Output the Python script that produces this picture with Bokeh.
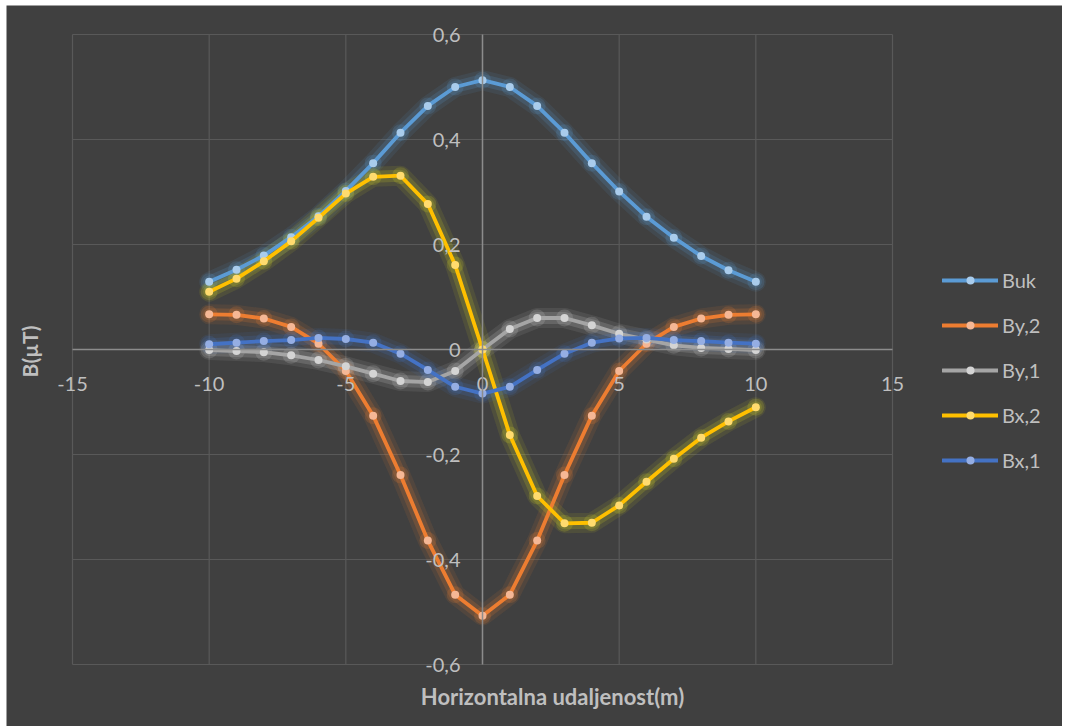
import math
from bokeh.plotting import figure
from bokeh.models import (LinearAxis, FixedTicker, CustomJSTickFormatter, Legend,
                          LegendItem, Label, Range1d)
from bokeh.embed import file_html
from bokeh.resources import INLINE

# ---------------- data ----------------
x = [-10, -9, -8, -7, -6, -5, -4, -3, -2, -1, 0, 1, 2, 3, 4, 5, 6, 7, 8, 9, 10]
buk = [0.129, 0.152, 0.179, 0.214, 0.254, 0.302, 0.355, 0.413, 0.464, 0.500, 0.513,
       0.500, 0.464, 0.413, 0.355, 0.301, 0.253, 0.213, 0.178, 0.151, 0.129]
by2 = [0.067, 0.066, 0.059, 0.043, 0.011, -0.041, -0.126, -0.239, -0.364, -0.467, -0.507,
       -0.467, -0.364, -0.239, -0.126, -0.041, 0.011, 0.043, 0.059, 0.066, 0.067]
by1 = [-0.001, -0.003, -0.005, -0.011, -0.020, -0.032, -0.046, -0.060, -0.062, -0.041, 0.0,
       0.039, 0.060, 0.060, 0.046, 0.030, 0.019, 0.008, 0.003, 0.001, -0.001]
bx2 = [0.110, 0.135, 0.168, 0.206, 0.251, 0.297, 0.329, 0.331, 0.277, 0.161, 0.0,
       -0.163, -0.279, -0.331, -0.330, -0.297, -0.252, -0.208, -0.168, -0.137, -0.110]
bx1 = [0.010, 0.013, 0.016, 0.018, 0.022, 0.020, 0.013, -0.008, -0.039, -0.071, -0.084,
       -0.071, -0.039, -0.008, 0.013, 0.021, 0.022, 0.018, 0.016, 0.013, 0.011]

series_names = ["Buk", "By,2", "By,1", "Bx,2", "Bx,1"]
series_values = [buk, by2, by1, bx2, bx1]

x_ticks = [-15, -10, -5, 0, 5, 10, 15]
x_tick_labels = ["-15", "-10", "-5", "0", "5", "10", "15"]
y_ticks = [-0.6, -0.4, -0.2, 0.0, 0.2, 0.4, 0.6]
y_tick_labels = ["-0,6", "-0,4", "-0,2", "0", "0,2", "0,4", "0,6"]

x_title = "Horizontalna udaljenost(m)"
y_title = "B(µT)"

# ---------------- styles / layout ----------------
line_colors = ["#5B9BD5", "#ED7D31", "#A5A5A5", "#FFC000", "#4472C4"]
marker_colors = ["#A9CCEC", "#F5B795", "#D4D4D4", "#FFDB6E", "#95AEE3"]
glow_colors = ["#5B9BD5", "#ED7D31", "#D0D0D0", "#D8D820", "#4472C4"]

BG = "#404040"
GRID = "#595959"
TXT = "#BFBFBF"
FONT = "Lato"

# axis box is 820 x 630 px; the frame covers the whole chart so nothing is clipped
AX_X0, AX_X1 = -15, 15
AX_Y0, AX_Y1 = -0.6, 0.6
BOX_W, BOX_H = 820, 630
PAD_L, PAD_R, PAD_T, PAD_B = 66, 170, 29, 62
FRAME_W = BOX_W + PAD_L + PAD_R
FRAME_H = BOX_H + PAD_T + PAD_B
sx = (AX_X1 - AX_X0) / BOX_W
sy = (AX_Y1 - AX_Y0) / BOX_H

p = figure(frame_width=FRAME_W, frame_height=FRAME_H,
           min_border_left=0, min_border_right=0,
           min_border_top=0, min_border_bottom=0,
           x_range=Range1d(AX_X0 - PAD_L * sx, AX_X1 + PAD_R * sx),
           y_range=Range1d(AX_Y0 - PAD_B * sy, AX_Y1 + PAD_T * sy),
           x_axis_location=None, y_axis_location=None,
           output_backend="svg", toolbar_location=None)
p.margin = (5, 0, 0, 6)

p.background_fill_color = BG
p.border_fill_color = BG
p.outline_line_color = None
p.xgrid.visible = False
p.ygrid.visible = False

def fmt(tks, lbls):
    return CustomJSTickFormatter(args=dict(tks=tks, lbls=lbls), code="""
        const i = tks.findIndex(t => Math.abs(t - tick) < 1e-9);
        return i >= 0 ? lbls[i] : '';
    """)

# gridlines limited to the axis box
p.segment(x0=x_ticks, y0=[AX_Y0] * len(x_ticks), x1=x_ticks, y1=[AX_Y1] * len(x_ticks),
          line_color=GRID, line_width=1.2)
p.segment(x0=[AX_X0] * len(y_ticks), y0=y_ticks, x1=[AX_X1] * len(y_ticks), y1=y_ticks,
          line_color=GRID, line_width=1.2)

xaxis = LinearAxis(fixed_location=0, ticker=FixedTicker(ticks=x_ticks),
                   formatter=fmt(x_ticks, x_tick_labels), bounds=(AX_X0, AX_X1))
yaxis = LinearAxis(fixed_location=0, ticker=FixedTicker(ticks=y_ticks),
                   formatter=fmt(y_ticks, y_tick_labels), bounds=(AX_Y0, AX_Y1))
for ax in (xaxis, yaxis):
    ax.axis_line_color = "#8C8C8C"
    ax.axis_line_width = 1.5
    ax.major_tick_in = 0
    ax.major_tick_out = 0
    ax.minor_tick_in = 0
    ax.minor_tick_out = 0
    ax.major_label_text_color = TXT
    ax.major_label_text_font = FONT
    ax.major_label_text_font_size = "20px"
xaxis.major_label_standoff = 27
yaxis.major_label_standoff = 22
p.add_layout(xaxis, "below")
p.add_layout(yaxis, "left")

# glow
for vals, gc in zip(series_values, glow_colors):
    p.line(x, vals, line_color=gc, line_width=20, line_alpha=0.10, line_join="round", line_cap="round")
    p.line(x, vals, line_color=gc, line_width=12, line_alpha=0.18, line_join="round", line_cap="round")
    p.scatter(x, vals, size=17, fill_color=gc, fill_alpha=0.18, line_color=None)

items = []
for name, vals, lc, mc in zip(series_names, series_values, line_colors, marker_colors):
    r1 = p.line(x, vals, line_color=lc, line_width=3.8, line_join="round", line_cap="round")
    r2 = p.scatter(x, vals, size=8, fill_color=mc, line_color=None)
    items.append(LegendItem(label=name, renderers=[r1, r2]))

legend = Legend(items=items, location=(PAD_L + BOX_W + 50, PAD_B + 192), orientation="vertical",
                glyph_width=56, glyph_height=20, label_height=20, spacing=21,
                padding=0, margin=0, label_standoff=4,
                border_line_alpha=0, background_fill_alpha=0,
                label_text_color=TXT, label_text_font=FONT, label_text_font_size="20px")
p.add_layout(legend, "center")

p.add_layout(Label(x=PAD_L + 480, y=30, x_units="screen", y_units="screen", text=x_title,
                   text_align="center", text_baseline="middle", text_color=TXT,
                   text_font=FONT, text_font_size="22px", text_font_style="bold"))
p.add_layout(Label(x=23, y=PAD_B + 313, x_units="screen", y_units="screen", text=y_title,
                   angle=math.pi / 2, text_align="center", text_baseline="middle",
                   text_color=TXT, text_font=FONT, text_font_size="21px",
                   text_font_style="bold"))

open("out.html", "w").write(file_html(p, INLINE))
